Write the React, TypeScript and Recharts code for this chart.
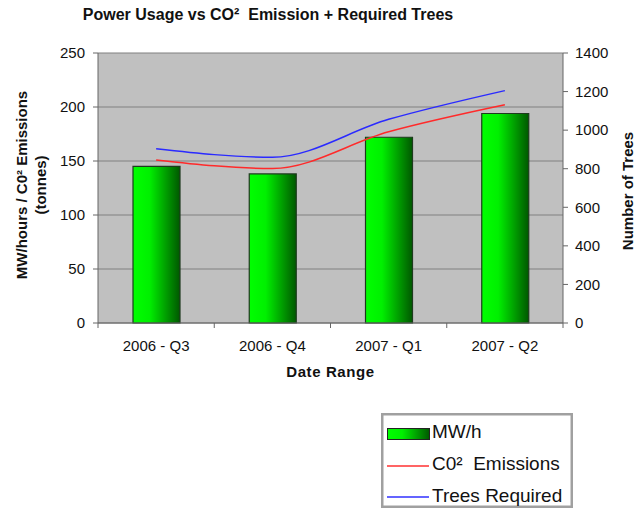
import React from "react";
import {
  ComposedChart,
  Bar,
  Line,
  XAxis,
  YAxis,
  CartesianGrid,
} from "recharts";

const categories = ["2006 - Q3", "2006 - Q4", "2007 - Q1", "2007 - Q2"];
const mwh = [145, 138, 172, 194];
const co2 = [151, 143, 177, 202];
const trees = [904, 859, 1056, 1205];
const leftTicks = [0, 50, 100, 150, 200, 250];
const rightTicks = [0, 200, 400, 600, 800, 1000, 1200, 1400];

const data = categories.map((c, i) => ({
  name: c,
  mwh: mwh[i],
  co2: co2[i],
  trees: trees[i],
}));

const W = 644;
const H = 508;
const LEFT_W = 98;
const RIGHT_W = 81;
const PLOT_W = W - LEFT_W - RIGHT_W;
const HALF_BAND = PLOT_W / categories.length / 2;
const FONT = "'Liberation Sans', Arial, sans-serif";

const XTick = (props: any) => {
  const { x, y, payload, index } = props;
  const axisY = y - 17;
  return (
    <g>
      <line x1={x - HALF_BAND} x2={x - HALF_BAND} y1={axisY} y2={axisY + 5} stroke="#666" />
      {index === categories.length - 1 && (
        <line x1={x + HALF_BAND} x2={x + HALF_BAND} y1={axisY} y2={axisY + 5} stroke="#666" />
      )}
      <text x={x} y={y} dy="0.71em" textAnchor="middle" fontSize={15} fill="#111" fontFamily={FONT}>
        {payload.value}
      </text>
    </g>
  );
};

const LeftLabel = (props: any) => {
  const vb = props.viewBox || {};
  const cy = (vb.y ?? 53) + (vb.height ?? 270) / 2 - 3;
  const x1 = 27;
  const x2 = 46;
  return (
    <g fontFamily={FONT} fontWeight="bold" fontSize={15} fill="#111">
      <text x={x1} y={cy} textAnchor="middle" transform={`rotate(-90 ${x1} ${cy})`} style={{ whiteSpace: "pre" }}>
        MW/hours / C0² Emissions
      </text>
      <text x={x2} y={cy} textAnchor="middle" transform={`rotate(-90 ${x2} ${cy})`}>
        (tonnes)
      </text>
    </g>
  );
};

const RightLabel = (props: any) => {
  const vb = props.viewBox || {};
  const cy = (vb.y ?? 53) + (vb.height ?? 270) / 2 + 3;
  const x = 633;
  return (
    <text
      x={x}
      y={cy}
      textAnchor="middle"
      transform={`rotate(-90 ${x} ${cy})`}
      fontFamily={FONT}
      fontWeight="bold"
      fontSize={15}
      fill="#111"
    >
      Number of Trees
    </text>
  );
};

const BottomLabel = (props: any) => {
  const vb = props.viewBox || {};
  const cx = (vb.x ?? 98) + (vb.width ?? 465) / 2;
  return (
    <text
      x={cx}
      y={377}
      textAnchor="middle"
      fontFamily={FONT}
      fontWeight="bold"
      fontSize={15}
      letterSpacing={0.6}
      fill="#111"
    >
      Date Range
    </text>
  );
};

const Legend = () => (
  <svg
    width={192}
    height={95}
    style={{ position: "absolute", left: 381, top: 413 }}
    fontFamily={FONT}
  >
    <defs>
      <linearGradient id="legGrad" x1="0" y1="0" x2="1" y2="0">
        <stop offset="0%" stopColor="#00ff00" />
        <stop offset="35%" stopColor="#00f000" />
        <stop offset="100%" stopColor="#005800" />
      </linearGradient>
    </defs>
    <rect x={1.25} y={1.25} width={189.5} height={92.5} fill="#fff" stroke="#a0a0a0" strokeWidth={2.5} />
    <rect x={6.5} y={15.5} width={42} height={11} fill="url(#legGrad)" stroke="#222" />
    <text x={51} y={25} fontSize={19} fill="#111">MW/h</text>
    <line x1={6} x2={48} y1={53} y2={53} stroke="#ff3030" strokeWidth={1.5} />
    <text x={51} y={57} fontSize={19} fill="#111" style={{ whiteSpace: "pre" }}>{"C0²  Emissions"}</text>
    <line x1={6} x2={48} y1={84} y2={84} stroke="#3030ff" strokeWidth={1.5} />
    <text x={51} y={89} fontSize={19} fill="#111">Trees Required</text>
  </svg>
);

export default function App() {
  return (
    <div style={{ position: "absolute", left: 0, top: 0, width: W, height: H, background: "#fff", fontFamily: FONT }}>
      <div
        style={{
          position: "absolute",
          left: 68,
          top: 5,
          width: 400,
          textAlign: "center",
          fontSize: 16,
          lineHeight: "20px",
          fontWeight: "bold",
          color: "#111",
          whiteSpace: "pre",
        }}
      >
        {"Power Usage vs CO²  Emission + Required Trees"}
      </div>
      <ComposedChart
        width={W}
        height={H}
        data={data}
        margin={{ top: 53, right: 0, bottom: 125, left: 0 }}
        style={{ fontFamily: FONT }}
      >
        <defs>
          <linearGradient id="barGrad" x1="0" y1="0" x2="1" y2="0">
            <stop offset="0%" stopColor="#00ff00" />
            <stop offset="35%" stopColor="#00f000" />
            <stop offset="100%" stopColor="#005800" />
          </linearGradient>
        </defs>
        <CartesianGrid
          yAxisId="left"
          vertical={false}
          stroke="#808080"
          strokeWidth={1.2}
          fill="#c0c0c0"
          fillOpacity={1}
        />
        <XAxis
          dataKey="name"
          height={60}
          tickSize={5}
          tickMargin={12}
          tickLine={false}
          tick={<XTick />}
          interval={0}
          axisLine={{ stroke: "#666" }}
          label={<BottomLabel />}
        />
        <YAxis
          yAxisId="left"
          orientation="left"
          width={LEFT_W}
          domain={[0, 250]}
          ticks={leftTicks}
          tickSize={5}
          tickMargin={8}
          tick={{ fontSize: 15, fill: "#111", fontFamily: FONT }}
          tickLine={{ stroke: "#666" }}
          axisLine={{ stroke: "#666" }}
          label={<LeftLabel />}
        />
        <YAxis
          yAxisId="right"
          orientation="right"
          width={RIGHT_W}
          domain={[0, 1400]}
          ticks={rightTicks}
          tickSize={5}
          tickMargin={7}
          tick={{ fontSize: 15, fill: "#111", fontFamily: FONT }}
          tickLine={{ stroke: "#666" }}
          axisLine={{ stroke: "#666" }}
          label={<RightLabel />}
        />
        <Bar
          yAxisId="left"
          dataKey="mwh"
          barSize={47}
          fill="url(#barGrad)"
          stroke="#1e3a1e"
          strokeWidth={1.2}
          isAnimationActive={false}
        />
        <Line
          yAxisId="left"
          dataKey="co2"
          type="monotone"
          stroke="#ff2a2a"
          strokeWidth={1.5}
          dot={false}
          activeDot={false}
          isAnimationActive={false}
        />
        <Line
          yAxisId="right"
          dataKey="trees"
          type="monotone"
          stroke="#2a2aff"
          strokeWidth={1.5}
          dot={false}
          activeDot={false}
          isAnimationActive={false}
        />
      </ComposedChart>
      <Legend />
    </div>
  );
}
